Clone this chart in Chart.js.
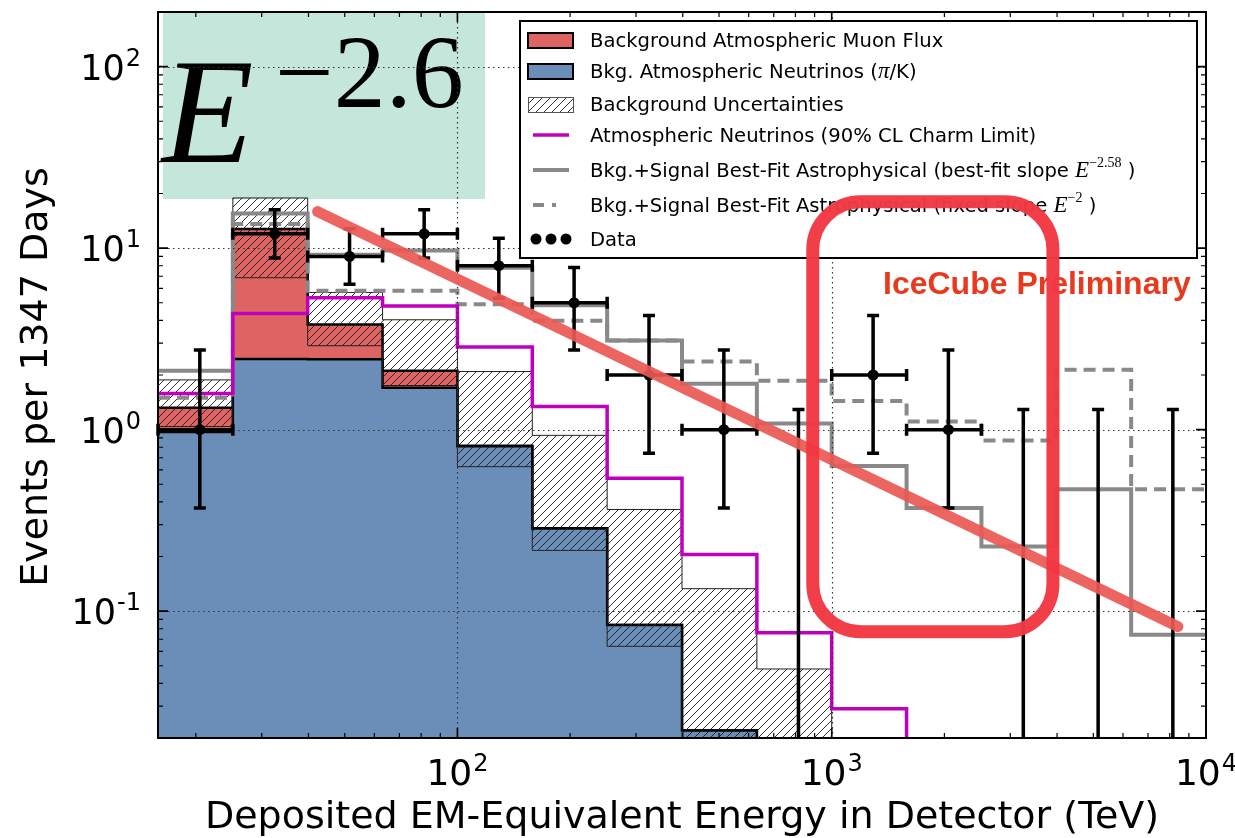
<!DOCTYPE html>
<html>
<head>
<meta charset="utf-8">
<script src="https://cdn.jsdelivr.net/npm/chart.js@4.4.1/dist/chart.umd.min.js"></script>
<style>
  html, body { margin: 0; padding: 0; background: #fff; }
  #wrap { width: 1235px; height: 838px; }
</style>
</head>
<body>
<div id="wrap"><canvas id="spectrum" width="1235" height="838"></canvas></div>
<script>
// bin edges in TeV (0.2 decade bins)
const binEdges = [15.85, 25.12, 39.81, 63.1, 100, 158.5, 251.2, 398.1, 631, 1000, 1585, 2512, 3981, 6310, 10000];

// expected background per bin
const atmNu = [0.97, 2.45, 2.44, 1.70, 0.81, 0.285, 0.084, 0.022, 0.006, 0.002, 0.001, 0.0005, 0.0003, 0.0002];
const atmMuon = [0.35, 10.3, 1.35, 0.41, 0.006, 0.001, 0, 0, 0, 0, 0, 0, 0, 0];
const bkgErrLow = [1.04, 6.87, 2.9, 1.75, 0.625, 0.216, 0.064, 0.012, 0.004, 0.001, 0.001, 0.001, 0.001, 0.001];
const bkgErrHigh = [1.88, 18.9, 5.7, 4.03, 2.09, 0.93, 0.363, 0.133, 0.048, 0.012, 0.006, 0.004, 0.003, 0.002];
const charmLimit = [1.58, 4.36, 5.33, 4.8, 2.85, 1.34, 0.54, 0.205, 0.076, 0.029, 0.008, 0.004, 0.002, 0.001];
const fitSoft = [2.11, 15.5, 9.2, 9.7, 7.8, 4.85, 3.1, 1.79, 1.08, 0.63, 0.37, 0.227, 0.47, 0.074];
const fitHard = [1.5, 13.6, 5.83, 5.83, 4.9, 3.98, 3.1, 2.37, 1.86, 1.44, 1.11, 0.87, 2.14, 0.47];

// observed events with 68% intervals
const dataE = [20.5, 32.5, 51.5, 81.5, 129, 205, 325, 515, 815, 1290, 2050, 3250, 5150, 8155];
const dataN = [1, 12, 9, 12, 8, 5, 2, 1, 0, 2, 1, 0, 0, 0];
const dataLo = [0.37, 8.83, 6.33, 8.83, 5.30, 2.75, 0.74, 0.37, 0, 0.74, 0.37, 0, 0, 0];
const dataHi = [2.75, 16.29, 12.79, 16.29, 11.32, 7.81, 4.25, 2.75, 1.29, 4.25, 2.75, 1.29, 1.29, 1.29];

// axis ticks
const xMajor = [100, 1000, 10000];
const xMajorExp = ['2', '3', '4'];
const yMajor = [0.1, 1, 10, 100];
const yMajorExp = ['-1', '0', '1', '2'];

// hand-drawn overlay: slope line and highlight box (data coordinates)
const slopeE = [42.3, 8414];
const slopeY = [15.9, 0.0822];
const boxE = [890, 3900];
const boxY = [18.0, 0.077];

const sans = '"DejaVu Sans", "Noto Sans", sans-serif';
const serif = '"Liberation Serif", "DejaVu Serif", serif';
const red = '#dd6462';
const blue = '#6b8eb9';
const gray = '#898989';
const magenta = '#bf00bf';

const canvas = document.getElementById('spectrum');
const ctx0 = canvas.getContext('2d');

function makeHatch(c) {
    const tile = document.createElement('canvas');
    tile.width = 8; tile.height = 8;
    const g = tile.getContext('2d');
    g.strokeStyle = '#1a1a1a';
    g.lineWidth = 0.9;
    g.beginPath();
    g.moveTo(0, 8); g.lineTo(8, 0);
    g.moveTo(-2, 2); g.lineTo(2, -2);
    g.moveTo(6, 10); g.lineTo(10, 6);
    g.stroke();
    return c.createPattern(tile, 'repeat');
}
const hatch = makeHatch(ctx0);

// histogram values -> step points on the bin edges
function steps(vals) {
    const pts = vals.map((v, i) => ({ x: binEdges[i], y: v }));
    pts.push({ x: binEdges[vals.length], y: vals[vals.length - 1] });
    return pts;
}

const bkgTotal = atmNu.map((v, i) => v + atmMuon[i]);

function minorValues(lo, hi) {
    const out = [];
    for (let d = Math.floor(Math.log10(lo)); d <= Math.ceil(Math.log10(hi)); d++) {
        for (let k = 2; k <= 9; k++) {
            const v = k * Math.pow(10, d);
            if (v > lo * 1.001 && v < hi * 0.999) out.push(v);
        }
    }
    return out;
}

function powerLabel(ctx, cx, base, exp, size, align) {
    const baseFont = size + 'px ' + sans;
    const supFont = Math.round(size * 0.68) + 'px ' + sans;
    ctx.font = baseFont;
    const wb = ctx.measureText('10').width;
    ctx.font = supFont;
    const ws = ctx.measureText(exp).width;
    const total = wb + ws + 1;
    const x0 = align === 'right' ? cx - total : cx - total / 2;
    ctx.textAlign = 'left';
    ctx.textBaseline = 'alphabetic';
    ctx.fillStyle = '#000';
    ctx.font = baseFont;
    ctx.fillText('10', x0, base);
    ctx.font = supFont;
    ctx.fillText(exp, x0 + wb + 1, base - size * 0.40);
}

// draw a run of text pieces [text, font, rise]
function richText(ctx, x, base, parts) {
    ctx.textAlign = 'left';
    ctx.textBaseline = 'alphabetic';
    parts.forEach(([t, font, rise]) => {
        ctx.font = font;
        ctx.fillText(t, x, base - (rise || 0));
        x += ctx.measureText(t).width;
    });
    return x;
}

const overlay = {
    id: 'overlay',
    beforeDatasetsDraw(chart) {
        const { ctx, chartArea: a } = chart;
        ctx.save();
        ctx.fillStyle = '#c5e6db';
        ctx.fillRect(a.left + 5, a.top, 322, 187);
        ctx.fillStyle = '#000';
        ctx.textBaseline = 'alphabetic';
        ctx.textAlign = 'left';
        ctx.font = 'italic 150px ' + serif;
        ctx.fillText('E', a.left + 4, a.top + 150);
        ctx.font = '104px ' + serif;
        ctx.fillText('\u22122.6', a.left + 117, a.top + 95);
        ctx.restore();
    },
    afterDatasetsDraw(chart) {
        const { ctx, chartArea: a, scales: { x, y } } = chart;
        ctx.save();
        // dotted grid at decades
        ctx.strokeStyle = '#333';
        ctx.lineWidth = 1.2;
        ctx.setLineDash([1.5, 3.5]);
        ctx.beginPath();
        xMajor.forEach(v => {
            const px = Math.round(x.getPixelForValue(v)) + 0.5;
            if (px < a.right - 2) { ctx.moveTo(px, a.top); ctx.lineTo(px, a.bottom); }
        });
        yMajor.forEach(v => {
            const py = Math.round(y.getPixelForValue(v)) + 0.5;
            ctx.moveTo(a.left, py); ctx.lineTo(a.right, py);
        });
        ctx.stroke();
        ctx.setLineDash([]);

        // error bars
        ctx.strokeStyle = '#000';
        ctx.lineWidth = 3.5;
        ctx.beginPath();
        dataE.forEach((e, i) => {
            const px = x.getPixelForValue(e);
            const top = y.getPixelForValue(dataHi[i]);
            const bot = dataLo[i] > 0 ? y.getPixelForValue(dataLo[i]) : a.bottom;
            ctx.moveTo(px, top); ctx.lineTo(px, bot);
            ctx.moveTo(px - 6, top); ctx.lineTo(px + 6, top);
            if (dataLo[i] > 0) { ctx.moveTo(px - 6, bot); ctx.lineTo(px + 6, bot); }
            if (dataN[i] > 0) {
                const py = y.getPixelForValue(dataN[i]);
                const l = x.getPixelForValue(binEdges[i]);
                const r = x.getPixelForValue(binEdges[i + 1]);
                ctx.moveTo(l, py); ctx.lineTo(r, py);
                ctx.moveTo(l, py - 6); ctx.lineTo(l, py + 6);
                ctx.moveTo(r, py - 6); ctx.lineTo(r, py + 6);
            }
        });
        ctx.stroke();
        ctx.restore();
    },
    afterDraw(chart) {
        const { ctx, chartArea: a, scales: { x, y } } = chart;
        ctx.save();
        // ticks on all four sides, pointing in
        ctx.strokeStyle = '#000';
        const tick = (vals, len, w) => {
            ctx.lineWidth = w;
            ctx.beginPath();
            vals.forEach(v => {
                const px = x.getPixelForValue(v);
                if (px <= a.left + 1 || px >= a.right - 1) return;
                ctx.moveTo(px, a.bottom); ctx.lineTo(px, a.bottom - len);
                ctx.moveTo(px, a.top); ctx.lineTo(px, a.top + len);
            });
            ctx.stroke();
        };
        const ytick = (vals, len, w) => {
            ctx.lineWidth = w;
            ctx.beginPath();
            vals.forEach(v => {
                const py = y.getPixelForValue(v);
                if (py <= a.top + 1 || py >= a.bottom - 1) return;
                ctx.moveTo(a.left, py); ctx.lineTo(a.left + len, py);
                ctx.moveTo(a.right, py); ctx.lineTo(a.right - len, py);
            });
            ctx.stroke();
        };
        tick(minorValues(x.min, x.max), 5, 1.2);
        tick(xMajor, 10, 1.6);
        ytick(minorValues(y.min, y.max), 5, 1.2);
        ytick(yMajor, 10, 1.6);
        ctx.lineWidth = 2;
        ctx.strokeRect(a.left, a.top, a.right - a.left, a.bottom - a.top);

        // tick labels
        xMajor.forEach((v, i) => powerLabel(ctx, x.getPixelForValue(v), a.bottom + 47, xMajorExp[i], 36, 'center'));
        yMajor.forEach((v, i) => powerLabel(ctx, a.left - 17, y.getPixelForValue(v) + 13, yMajorExp[i], 35, 'right'));

        // axis titles
        ctx.fillStyle = '#000';
        ctx.font = '38px ' + sans;
        ctx.textAlign = 'center';
        ctx.textBaseline = 'alphabetic';
        ctx.fillText('Deposited EM-Equivalent Energy in Detector (TeV)', (a.left + a.right) / 2, a.bottom + 90);
        ctx.save();
        ctx.translate(47, (a.top + a.bottom) / 2 + 2);
        ctx.rotate(-Math.PI / 2);
        ctx.fillText('Events per 1347 Days', 0, 0);
        ctx.restore();

        // legend
        const lx = 520, ly = 21, lw = 677, lh = 237;
        ctx.fillStyle = '#fff';
        ctx.fillRect(lx, ly, lw, lh);
        ctx.lineWidth = 2;
        ctx.strokeStyle = '#000';
        ctx.strokeRect(lx, ly, lw, lh);
        const lf = '19.6px ' + sans;
        const itf = 'italic 23px ' + serif;
        const supf = '14px ' + serif;
        const rows = [40, 71, 104, 135, 170, 205, 239];
        const sx = 528, sw = 45;
        // patches
        [[red, rows[0]], [blue, rows[1]]].forEach(([c, ry]) => {
            ctx.fillStyle = c;
            ctx.fillRect(sx, ry - 7, sw, 15);
            ctx.lineWidth = 2;
            ctx.strokeStyle = '#000';
            ctx.strokeRect(sx, ry - 7, sw, 15);
        });
        ctx.fillStyle = hatch;
        ctx.fillRect(sx, rows[2] - 7, sw, 15);
        ctx.lineWidth = 1;
        ctx.strokeStyle = '#555';
        ctx.strokeRect(sx + 0.5, rows[2] - 6.5, sw, 15);
        const seg = (ry, c, w, dash) => {
            ctx.beginPath();
            ctx.strokeStyle = c;
            ctx.lineWidth = w;
            ctx.setLineDash(dash);
            ctx.moveTo(533, ry); ctx.lineTo(569, ry);
            ctx.stroke();
            ctx.setLineDash([]);
        };
        seg(rows[3], magenta, 3.5, []);
        seg(rows[4], gray, 4, []);
        seg(rows[5], gray, 4, [11, 8, 4, 20]);
        ctx.fillStyle = '#000';
        [536, 551, 566].forEach(cx => {
            ctx.beginPath();
            ctx.arc(cx, rows[6], 5.5, 0, Math.PI * 2);
            ctx.fill();
        });
        const tx = 590;
        ctx.fillStyle = '#000';
        richText(ctx, tx, rows[0] + 7, [['Background Atmospheric Muon Flux', lf]]);
        richText(ctx, tx, rows[1] + 7, [['Bkg. Atmospheric Neutrinos (', lf], ['\u03c0', itf], ['/K)', lf]]);
        richText(ctx, tx, rows[2] + 7, [['Background Uncertainties', lf]]);
        richText(ctx, tx, rows[3] + 7, [['Atmospheric Neutrinos (90% CL Charm Limit)', lf]]);
        richText(ctx, tx, rows[4] + 7, [['Bkg.+Signal Best-Fit Astrophysical (best-fit slope ', lf], ['E', itf], ['\u22122.58', supf, 10], [' )', lf]]);
        richText(ctx, tx, rows[5] + 7, [['Bkg.+Signal Best-Fit Astrophysical (fixed slope ', lf], ['E', itf], ['\u22122', supf, 10], [' )', lf]]);
        richText(ctx, tx, rows[6] + 7, [['Data', lf]]);

        // watermark
        ctx.fillStyle = '#e8391d';
        ctx.font = 'bold 32px "Liberation Sans", Arial, sans-serif';
        ctx.textAlign = 'left';
        ctx.fillText('IceCube Preliminary', 883, 294);

        // hand-drawn slope line
        ctx.lineCap = 'round';
        ctx.strokeStyle = 'rgba(236, 88, 82, 0.92)';
        ctx.lineWidth = 11;
        ctx.beginPath();
        ctx.moveTo(x.getPixelForValue(slopeE[0]), y.getPixelForValue(slopeY[0]));
        ctx.lineTo(x.getPixelForValue(slopeE[1]), y.getPixelForValue(slopeY[1]));
        ctx.stroke();

        // hand-drawn highlight box
        const bx0 = x.getPixelForValue(boxE[0]), bx1 = x.getPixelForValue(boxE[1]);
        const by0 = y.getPixelForValue(boxY[0]), by1 = y.getPixelForValue(boxY[1]);
        ctx.strokeStyle = 'rgba(242, 56, 66, 0.97)';
        ctx.lineWidth = 13;
        ctx.beginPath();
        ctx.roundRect(bx0, by0, bx1 - bx0, by1 - by0, 48);
        ctx.stroke();
        ctx.restore();
    }
};

const line = (data, extra) => Object.assign({
    data, stepped: true, fill: false, pointRadius: 0, tension: 0, borderWidth: 1
}, extra);

new Chart(canvas, {
    type: 'line',
    data: {
        datasets: [
            line(steps(bkgTotal), { label: 'Background Atmospheric Muon Flux', fill: 'start', backgroundColor: red, borderColor: '#000', borderWidth: 2.5, order: 10 }),
            line(steps(atmNu), { label: 'Bkg. Atmospheric Neutrinos', fill: 'start', backgroundColor: blue, borderColor: '#000', borderWidth: 2.5, order: 9 }),
            line(steps(bkgErrLow), { label: 'uncertainty low', borderColor: '#222', borderWidth: 1, order: 8 }),
            line(steps(bkgErrHigh), { label: 'Background Uncertainties', fill: { target: 2 }, backgroundColor: hatch, borderColor: '#222', borderWidth: 1, order: 7 }),
            line(steps(fitHard), { label: 'fixed slope', borderColor: gray, borderWidth: 4, borderDash: [12, 7], order: 6 }),
            line(steps(fitSoft), { label: 'best-fit slope', borderColor: gray, borderWidth: 4, order: 5 }),
            line(steps(charmLimit), { label: 'charm limit', borderColor: magenta, borderWidth: 3.5, order: 4 }),
            {
                type: 'scatter', label: 'Data', order: 1,
                data: dataE.map((e, i) => ({ x: e, y: dataN[i] > 0 ? dataN[i] : null })),
                pointRadius: 5.5, pointBackgroundColor: '#000', pointBorderWidth: 0, showLine: false
            }
        ]
    },
    options: {
        responsive: false,
        animation: false,
        devicePixelRatio: 1,
        layout: { padding: { left: 158, right: 29, top: 12, bottom: 100 } },
        plugins: { legend: { display: false }, tooltip: { enabled: false } },
        scales: {
            x: { type: 'logarithmic', min: 15.85, max: 10000, display: false },
            y: { type: 'logarithmic', min: 0.02, max: 200, display: false }
        }
    },
    plugins: [overlay]
});
</script>
</body>
</html>
